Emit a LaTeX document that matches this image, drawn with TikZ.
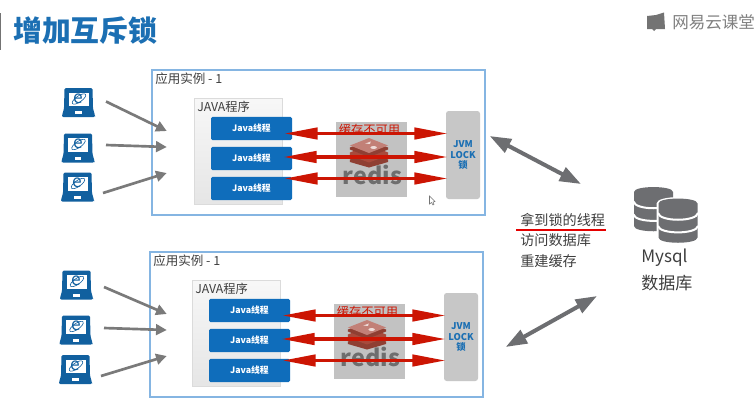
\documentclass[tikz,border=0pt]{standalone}
\usepackage{fontspec}
\setmainfont{Noto Sans CJK SC}
\usetikzlibrary{arrows.meta,calc}
\definecolor{tblue}{HTML}{1B6FB3}
\definecolor{thblue}{HTML}{0F6DBB}
\definecolor{lapblue}{HTML}{11609F}
\definecolor{frameblue}{HTML}{85B5E2}
\definecolor{txt}{HTML}{3F3F3F}
\definecolor{gr}{HTML}{6D6E71}
\definecolor{cl}{HTML}{7A7A7A}
\definecolor{rd}{HTML}{CC1503}
\definecolor{rlogo}{HTML}{A84A3C}
\tikzset{
  instbox/.style={draw=frameblue,line width=1pt,fill=white,minimum width=249.75pt,minimum height=108.75pt,inner sep=0pt},
  javabox/.style={draw=black!14,top color=black!3,bottom color=black!10,minimum width=66pt,minimum height=79.5pt,inner sep=0pt},
  thread/.style={fill=thblue,rounded corners=1.2pt,minimum width=60.75pt,minimum height=17.5pt,inner sep=0pt,text=white,font=\fontsize{6.6pt}{8pt}\selectfont\bfseries},
  redisbox/.style={fill=black!24,minimum width=53.25pt,minimum height=56.25pt,inner sep=0pt},
  jvmbox/.style={fill=black!22,rounded corners=2pt,minimum width=25.5pt,minimum height=66pt,inner sep=0pt,text=tblue,align=center,font=\fontsize{7pt}{7.6pt}\selectfont\bfseries},
  label/.style={anchor=west,inner sep=0pt,text=txt},
  redbi/.style={draw=rd,line width=2.6pt,{Triangle[length=25pt,width=8.5pt]}-{Triangle[length=25pt,width=8.5pt]}},
  graybi/.style={draw=gr,line width=3pt,{Triangle[length=16pt,width=11pt]}-{Triangle[length=16pt,width=11pt]}},
  clientarrow/.style={draw=cl,line width=2pt,-{Triangle[length=8pt,width=8pt]}},
  laptop/.pic={
    \fill[lapblue,rounded corners=1pt] (-14,-14.5) -- (14,-14.5) -- (14.5,6) -- (16.5,13) -- (16.5,14.5) -- (-16.5,14.5) -- (-16.5,13) -- (-14.5,6) -- cycle;
    \fill[white] (-10,-10) rectangle (10,3.5);
    \fill[white] (-3.3,8.5) rectangle (3.3,11.5);
    \draw[lapblue,line width=.45pt,shift={(0.5,-3.5)},rotate=35] (0,0) ellipse [x radius=8,y radius=3];
    \node[inner sep=0pt,text=lapblue,font=\fontsize{13pt}{13pt}\selectfont\itshape] (-e) at (0,-4) {e};
  },
  dbcyl/.pic={
    \fill[white] (-2,5) .. controls (-2,-3.5) and (41,-3.5) .. (41,5) -- (41,40) .. controls (41,48) and (-2,48) .. (-2,40) -- cycle;
    \fill[gr] (0,5) .. controls (0,-1.6) and (39,-1.6) .. (39,5) -- (39,39) .. controls (39,46) and (0,46) .. (0,39) -- cycle;
    \draw[white,line width=1.5pt] (-0.5,14.5) .. controls (1,23.5) and (38,23.5) .. (39.5,14.5);
    \draw[white,line width=1.5pt] (-0.5,27.5) .. controls (1,36) and (38,36) .. (39.5,27.5);
  },
  redislogo/.pic={
    \begin{scope}[xscale=.93]
    \fill[rlogo!85!black] (-20.5,7) -- (0,-1) -- (20.5,7) -- (20.5,9.5) -- (0,15) -- (-20.5,9.5) -- cycle;
    \fill[rlogo] (-20.5,0) -- (0,-7.5) -- (20.5,0) -- (20.5,3) -- (0,10) -- (-20.5,3) -- cycle;
    \fill[rlogo!85!black] (-20.5,-5) -- (0,-12) -- (20.5,-5) -- (20.5,-3) -- (0,4.5) -- (-20.5,-3) -- cycle;
    \fill[rlogo!70!white] (-20.5,-7) -- (0,-14.5) -- (20.5,-7) -- (0,0.5) -- cycle;
    \fill[white!80!rlogo] (-4,-9) -- (2,-11) -- (1,-8.5) -- cycle;
    \fill[white!80!rlogo] (5,-5) ellipse [x radius=3.5,y radius=1.5];
    \end{scope}
  }
}
\newcommand{\AppInstance}[3]{%
  \begin{scope}[shift={(#2,#3)}]
    \node[instbox] (#1inst) at (318.5,142.5) {};
    \node[label,font=\fontsize{9.4pt}{11pt}\selectfont] (#1title) at (155,79) {应用实例 - 1};
    \node[javabox] (#1java) at (238,151) {};
    \node[label,font=\fontsize{9.2pt}{11pt}\selectfont] (#1jtitle) at (197,106.5) {JAVA程序};
    \node[redisbox] (#1redis) at (371.5,159.5) {};
    \pic (#1logo) at (369,152.5) {redislogo};
    \node[inner sep=0pt,text=black!57,font=\fontsize{17.5pt}{18pt}\selectfont\bfseries] (#1rword) at (372.5,175) {redis};
    \node[inner sep=0pt,text=rd,font=\fontsize{9.2pt}{11pt}\selectfont] (#1unavail) at (369.5,130) {缓存不可用};
    \node[thread] (#1t1) at (251.5,128.5) {Java线程};
    \node[thread] (#1t2) at (251.5,158.5) {Java线程};
    \node[thread] (#1t3) at (251.5,188.5) {Java线程};
    \node[jvmbox] (#1jvm) at (463,155) {JVM\\LOCK\\锁};
    \coordinate (#1r1) at ([shift={(-8,5)}]#1t1.east);
    \coordinate (#1r2) at ([shift={(-9,-1.5)}]#1t2.east);
    \coordinate (#1r3) at ([shift={(-8,-10)}]#1t3.east);
    \draw[redbi] (#1r1) -- ([xshift=1.5pt]#1r1 -| #1jvm.west);
    \draw[redbi] (#1r2) -- ([xshift=1.5pt]#1r2 -| #1jvm.west);
    \draw[redbi] (#1r3) -- ([xshift=1.5pt]#1r3 -| #1jvm.west);
  \end{scope}}
\begin{document}
\begin{tikzpicture}[x=0.75pt,y=-0.75pt]
\useasboundingbox (0,0) rectangle (756,404);
\fill[white] (0,0) rectangle (756,404);
\fill[black!55] (0,13) rectangle (1.2,50);
\node[anchor=west,inner sep=0pt,text=tblue,font=\fontsize{21.6pt}{24pt}\selectfont\bfseries] (head) at (13,30.5) {增加互斥锁};
% brand
\fill[black!55] (647,16) -- (656,15) -- (664,12.5) -- (665,29) -- (656,29) -- (654,31) -- (652,29) -- (647,29) -- cycle;
\node[anchor=west,inner sep=0pt,text=black!50,font=\fontsize{12.4pt}{14pt}\selectfont] (brand) at (672,22) {网易云课堂};

\AppInstance{a}{0}{0}
\AppInstance{b}{-2}{182}

% cursor
\draw[black!55,fill=white,line width=.4pt] (429.5,196) -- (429.5,204) -- (431.5,202.5) -- (433,205) -- (434,204.3) -- (433,202) -- (435,201.5) -- cycle;

% clients
\pic (c1) at (78.5,102.5) {laptop};
\pic (c2) at (78,148) {laptop};
\pic (c3) at (77.5,187) {laptop};
\pic (c4) at (76.5,285) {laptop};
\pic (c5) at (76,330) {laptop};
\pic (c6) at (75.5,369.5) {laptop};
\draw[clientarrow] ([shift={(27.5,3)}]c1-e.center) -- ([shift={(-27,-20)}]ajava.west);
\draw[clientarrow] ([shift={(28,1)}]c2-e.center) -- ([shift={(-27,-4)}]ajava.west);
\draw[clientarrow] ([shift={(25.5,10)}]c3-e.center) -- ([shift={(-27,22)}]ajava.west);
\draw[clientarrow] ([shift={(27.5,6)}]c4-e.center) -- ([shift={(-25,-19)}]bjava.west);
\draw[clientarrow] ([shift={(28,2)}]c5-e.center) -- ([shift={(-25,-3)}]bjava.west);
\draw[clientarrow] ([shift={(25.5,10.5)}]c6-e.center) -- ([shift={(-25,23)}]bjava.west);

% database
\pic (db1) at (634,187) {dbcyl};
\pic (db2) at (658.5,198.5) {dbcyl};
\node[label,font=\fontsize{12.8pt}{14pt}\selectfont] (mysql) at (641,258) {Mysql};
\node[label,font=\fontsize{12.8pt}{15pt}\selectfont] (dbname) at (641,283.5) {数据库};
\coordinate (g1end) at (581,184);
\coordinate (g2end) at (597,296);
\draw[graybi] ([shift={(4,-6.5)}]ainst.east) -- (g1end);
\draw[graybi] ([shift={(22,22.5)}]binst.east) -- (g2end);

% notes
\node[label,font=\fontsize{10.6pt}{12pt}\selectfont] (n1) at (520,220) {拿到锁的线程};
\node[label,font=\fontsize{10.6pt}{12pt}\selectfont] (n2) at (520,240) {访问数据库};
\node[label,font=\fontsize{10.6pt}{12pt}\selectfont] (n3) at (520,261) {重建缓存};
\draw[red!90!black,line width=1.1pt] ([xshift=-3pt,yshift=-7.5pt]n1.west) -- ([xshift=0.5pt,yshift=-7.5pt]n1.east);
\end{tikzpicture}
\end{document}
